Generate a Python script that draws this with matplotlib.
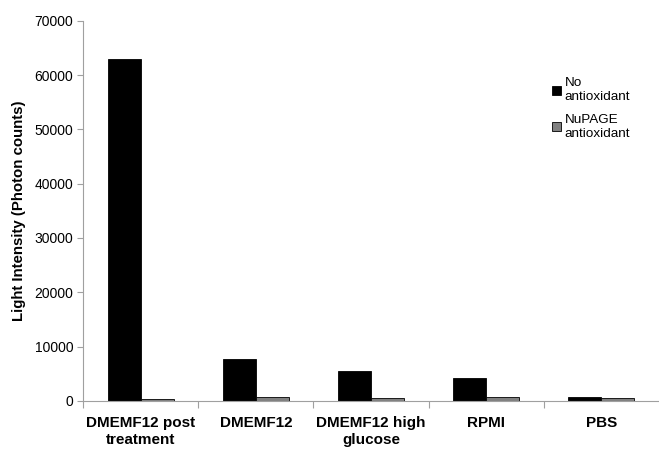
import matplotlib
matplotlib.use("Agg")
import matplotlib.pyplot as plt
import numpy as np

categories = ["DMEMF12 post\ntreatment", "DMEMF12", "DMEMF12 high\nglucose", "RPMI", "PBS"]
no_antioxidant = [63000, 7700, 5500, 4200, 800]
nupage_antioxidant = [400, 800, 600, 800, 600]
series_names = ["No\nantioxidant", "NuPAGE\nantioxidant"]
yticks = [0, 10000, 20000, 30000, 40000, 50000, 60000, 70000]

plt.rcParams['font.family'] = ['Liberation Sans', 'DejaVu Sans']

fig = plt.figure(figsize=(6.59, 4.5), dpi=100)
ax = fig.add_axes([0.126, 0.109, 0.874, 0.845])

x = np.arange(len(categories))
w = 0.286
b1 = ax.bar(x - w/2, no_antioxidant, w, color='black', edgecolor='black', linewidth=0.6, label=series_names[0])
b2 = ax.bar(x + w/2, nupage_antioxidant, w, color='#808080', edgecolor='black', linewidth=0.6, label=series_names[1])

ax.set_xlim(-0.5, len(categories) - 0.5)
ax.set_ylim(0, 70000)
ax.set_yticks(yticks)
ax.set_yticklabels([str(v) for v in yticks], fontsize=10)
ax.set_xticks(x)
ax.set_xticklabels(categories, fontsize=11, fontweight='bold', linespacing=1.25)
ax.set_xticks(np.arange(len(categories)) - 0.5, minor=True)
ax.tick_params(axis='x', which='major', length=0, pad=11)
ax.tick_params(axis='x', which='minor', length=5, color='#a0a0a0', width=0.8)
ax.tick_params(axis='y', length=4, color='#a0a0a0', width=0.8, pad=3)

for s in ['top', 'right']:
    ax.spines[s].set_visible(False)
for s in ['left', 'bottom']:
    ax.spines[s].set_color('#a0a0a0')
    ax.spines[s].set_linewidth(0.8)

ax.set_ylabel("Light Intensity (Photon counts)", fontsize=10.8, fontweight='bold', labelpad=6)

leg = fig.legend(handles=[b1, b2], loc='upper left', bbox_to_anchor=(0.83, 0.84),
                 frameon=False, fontsize=9.7, handlelength=0.65, handleheight=0.65,
                 handletextpad=0.25, labelspacing=0.8, borderaxespad=0)

fig.savefig("out.png", dpi=100)
